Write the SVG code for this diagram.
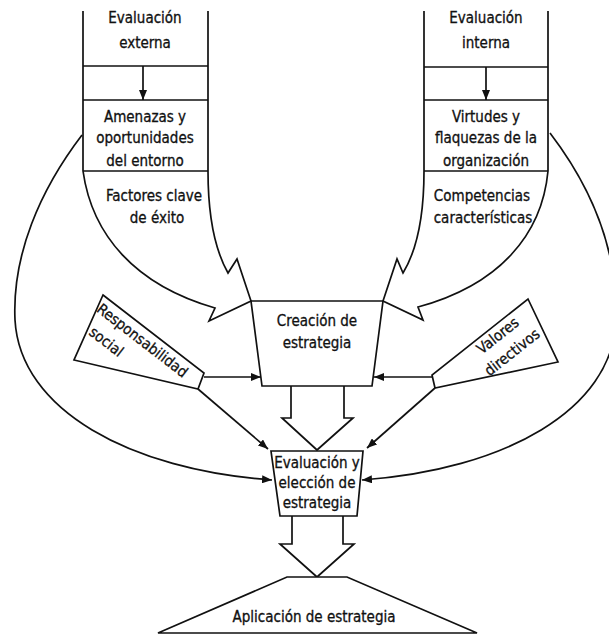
<svg xmlns="http://www.w3.org/2000/svg" width="609" height="637" viewBox="0 0 609 637">
<style>
.ln{fill:none;stroke:#111;stroke-width:1.7;stroke-linejoin:miter}
.sh{fill:#fff;stroke:#111;stroke-width:1.7;stroke-linejoin:miter}
.t{font-family:"Liberation Sans Narrow","DejaVu Sans Condensed","Arial Narrow","Liberation Sans",sans-serif;font-stretch:condensed;font-size:15px;fill:#111;stroke:#111;stroke-width:0.3;text-anchor:middle}
.ts{text-anchor:start}
</style>
<defs>
<marker id="ah" markerUnits="userSpaceOnUse" markerWidth="10" markerHeight="8" refX="10" refY="4" orient="auto">
<path d="M0,0 L10,4 L0,8 z" fill="#111"/>
</marker>
</defs>
<rect width="609" height="637" fill="#fff"/>

<g id="connectors">
<path class="ln" d="M82,135 C 40,190 12,255 15,320 C 20,410 130,470 272,480" marker-end="url(#ah)"/>
<path class="ln" d="M550,133 C 592,188 618,250 616,320 C 613,410 504,470 362,480" marker-end="url(#ah)"/>
<line class="ln" x1="204" y1="377" x2="261" y2="377" marker-end="url(#ah)"/>
<line class="ln" x1="432" y1="377" x2="374" y2="377" marker-end="url(#ah)"/>
<line class="ln" x1="198" y1="389" x2="268" y2="449" marker-end="url(#ah)"/>
<line class="ln" x1="435" y1="388" x2="367" y2="448" marker-end="url(#ah)"/>
<path class="sh" d="M291,386 L291,418 L282,418 L317,450 L353,418 L344,418 L344,386"/>
<path class="sh" d="M292,516 L292,544 L280,544 L317,577 L354,544 L343,544 L343,516"/>
</g>

<g id="eval-externa">
<path class="sh" d="M83,11 L83,171 C 92,235 135,285 215,308 L209,321 L251,301 L237,259 L228,273 C 215,250 208,215 208,171 L208,11"/>
<line class="ln" x1="83" y1="66" x2="208" y2="66"/>
<line class="ln" x1="83" y1="100" x2="208" y2="100"/>
<line class="ln" x1="83" y1="171" x2="208" y2="171"/>
<line class="ln" x1="143" y1="66" x2="143" y2="100" marker-end="url(#ah)"/>
<text class="t" x="145" y="23">Evaluación</text>
<text class="t" x="145" y="48">externa</text>
<text class="t" x="145" y="122">Amenazas y</text>
<text class="t" x="145" y="143">oportunidades</text>
<text class="t" x="145" y="166">del entorno</text>
<text class="t" x="154" y="201">Factores clave</text>
<text class="t" x="157" y="223">de éxito</text>
</g>

<g id="eval-interna">
<path class="sh" d="M424,11 L424,171 C 424,215 417,250 403,273 L397,259 L383,301 L423,320 L418,307 C 499,285 542,235 548,171 L548,11"/>
<line class="ln" x1="424" y1="67" x2="548" y2="67"/>
<line class="ln" x1="424" y1="100" x2="548" y2="100"/>
<line class="ln" x1="424" y1="171" x2="548" y2="171"/>
<line class="ln" x1="486" y1="67" x2="486" y2="100" marker-end="url(#ah)"/>
<text class="t" x="486" y="23">Evaluación</text>
<text class="t" x="486" y="48">interna</text>
<text class="t" x="486" y="122">Virtudes y</text>
<text class="t" x="486" y="143">flaquezas de la</text>
<text class="t" x="486" y="166">organización</text>
<text class="t" x="482" y="201">Competencias</text>
<text class="t" x="483" y="223">características</text>
</g>

<g id="creacion">
<path class="sh" d="M251,301 L383,301 L372,386 L262,386 Z"/>
<text class="t" x="317" y="326">Creación de</text>
<text class="t" x="317" y="348">estrategia</text>
</g>

<g id="responsabilidad">
<path class="sh" d="M103,295 L204,373 L198,389 L74,360 Z"/>
<g transform="translate(103,295) rotate(37.7)">
<text class="t ts" x="4" y="17">Responsabilidad</text>
<text class="t ts" x="12" y="40">social</text>
</g>
</g>

<g id="valores">
<path class="sh" d="M528,299 L558,362 L435,388 L432,375 Z"/>
<g transform="translate(432,375) rotate(-38.4)">
<text class="t" x="76" y="15">Valores</text>
<text class="t" x="77" y="37">directivos</text>
</g>
</g>

<g id="evaluacion-eleccion">
<path class="sh" d="M271,451 L363,451 L357,516 L280,516 Z"/>
<text class="t" x="317" y="468">Evaluación y</text>
<text class="t" x="317" y="488">elección de</text>
<text class="t" x="317" y="508">estrategia</text>
</g>

<g id="aplicacion">
<path class="sh" d="M287,577 L347,577 L477,633 L158,633 Z"/>
<text class="t" x="314" y="622">Aplicación de estrategia</text>
</g>
</svg>
